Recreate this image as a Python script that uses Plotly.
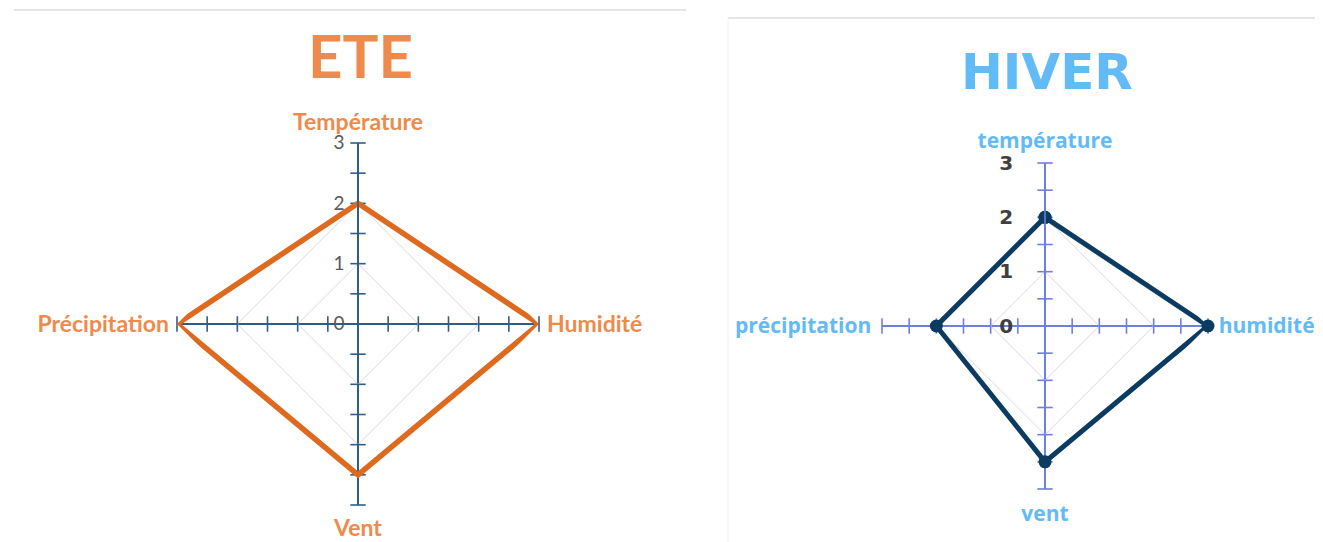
import plotly.graph_objects as go

# -----------------------------------------
# DATA
# -----------------------------------------
categories_ete = ["Température", "Humidité", "Vent", "Précipitation"]
values_ete = [2, 3, 2.5, 3]

categories_hiver = ["température", "humidité", "vent", "précipitation"]
values_hiver = [2, 3, 2.5, 2]

radial_ticks = [0, 1, 2, 3]
minor_ticks = [0.5, 1, 1.5, 2, 2.5, 3]

ORANGE_TXT = "#EE8A4B"
ORANGE_LINE = "#DE6A1F"
BLUE_TXT = "#62BBF7"
NAVY = "#0B3B60"
AXIS_ETE = "#2F5D86"
AXIS_HIVER = "#6E7FDE"
GRID = "#D9D9D9"

# page body has an 8px margin, so the figure is a bit smaller than the window
W, H, OFF = 1315, 534, 8


def px(x):
    return (x - OFF) / W


def py(y):
    return 1 - (y - OFF) / H


fig = go.Figure()


def add_spoke_ticks(cats, color, subplot):
    # little tick marks crossing each of the four spokes
    for i, c in enumerate(cats):
        symbol = "line-ew" if i % 2 == 0 else "line-ns"
        fig.add_trace(go.Scatterpolar(
            r=minor_ticks,
            theta=[c] * len(minor_ticks),
            mode="markers",
            marker=dict(symbol=symbol, size=11,
                        line=dict(color=color, width=1.6)),
            cliponaxis=False,
            hoverinfo="skip",
            subplot=subplot,
        ))


# ETE
add_spoke_ticks(categories_ete, AXIS_ETE, "polar")
fig.add_trace(go.Scatterpolar(
    r=values_ete + values_ete[:1],
    theta=categories_ete + categories_ete[:1],
    mode="lines",
    line=dict(color=ORANGE_LINE, width=5.5),
    cliponaxis=False,
    subplot="polar",
))

# HIVER
add_spoke_ticks(categories_hiver, AXIS_HIVER, "polar2")
fig.add_trace(go.Scatterpolar(
    r=values_hiver + values_hiver[:1],
    theta=categories_hiver + categories_hiver[:1],
    mode="lines+markers",
    line=dict(color=NAVY, width=5),
    marker=dict(color=NAVY, size=13),
    cliponaxis=False,
    subplot="polar2",
))


def polar_layout(domx, domy, cats, axis_color, lab_font, lab_pad, tick_font, ticklen):
    return dict(
        domain=dict(x=domx, y=domy),
        gridshape="linear",
        bgcolor="white",
        radialaxis=dict(
            range=[0, 3],
            tickvals=radial_ticks,
            angle=90,
            tickangle=90,
            side="counterclockwise",
            showline=True,
            linecolor=axis_color,
            linewidth=1.6,
            gridcolor=GRID,
            gridwidth=1.2,
            ticks="outside",
            ticklen=ticklen,
            tickcolor="rgba(0,0,0,0)",
            tickfont=tick_font,
        ),
        angularaxis=dict(
            categoryorder="array",
            categoryarray=cats,
            rotation=90,
            direction="clockwise",
            showline=False,
            gridcolor=axis_color,
            gridwidth=1.6,
            ticks="outside",
            ticklen=lab_pad,
            tickcolor="rgba(0,0,0,0)",
            tickfont=lab_font,
        ),
    )


fig.update_layout(
    width=W,
    height=H,
    margin=dict(l=0, r=0, t=0, b=0),
    paper_bgcolor="white",
    showlegend=False,
    polar=polar_layout(
        [px(177), px(539)], [py(505), py(143)], categories_ete, AXIS_ETE,
        dict(family="Lato", size=23, color=ORANGE_TXT, weight="bold"), 3,
        dict(family="Lato", size=19, color="#595959"), 6),
    polar2=polar_layout(
        [px(882), px(1208)], [py(489), py(163)], categories_hiver, AXIS_HIVER,
        dict(family="Open Sans", size=21, color=BLUE_TXT, weight="bold"), 6,
        dict(family="DejaVu Sans", size=20, color="#404040", weight="bold"), 24),
)

# titles
fig.add_annotation(text="ETE", x=px(360), y=py(55), xref="paper", yref="paper",
                   xanchor="center", yanchor="middle", showarrow=False,
                   font=dict(family="Lato", size=60, color=ORANGE_TXT, weight="bold"))
fig.add_annotation(text="HIVER", x=px(1047), y=py(72), xref="paper", yref="paper",
                   xanchor="center", yanchor="middle", showarrow=False,
                   font=dict(family="DejaVu Sans", size=50, color=BLUE_TXT, weight="bold"))

# thin frame lines of the two panels
fig.add_shape(type="line", x0=px(14), x1=px(686), y0=py(10), y1=py(10),
              xref="paper", yref="paper", line=dict(color="#DDDDDD", width=1.5))
fig.add_shape(type="line", x0=px(728), x1=1, y0=py(18), y1=py(18),
              xref="paper", yref="paper", line=dict(color="#DDDDDD", width=1.5))
fig.add_shape(type="line", x0=px(728), x1=px(728), y0=0, y1=py(18),
              xref="paper", yref="paper", line=dict(color="#F2F2F2", width=1))

fig.write_html("out.html")
